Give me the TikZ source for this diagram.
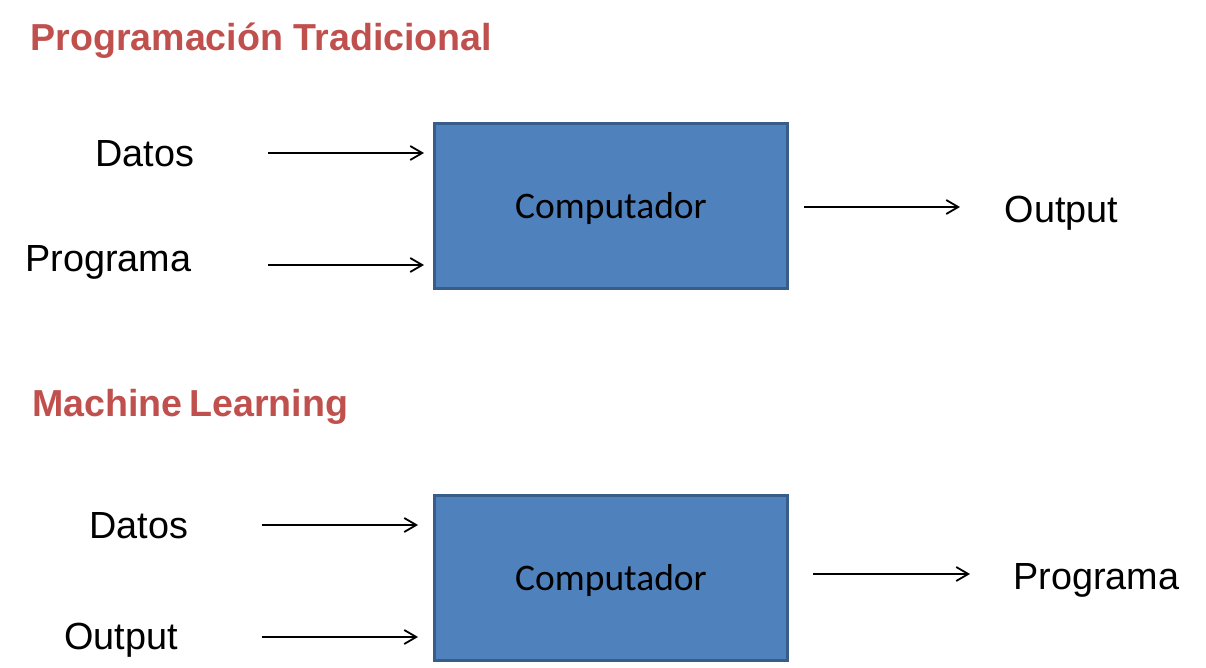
\documentclass[tikz,border=0pt]{standalone}
\usepackage{fontspec}
\setmainfont{Liberation Sans}
\newfontfamily\calibri{Carlito}
\usetikzlibrary{arrows.meta}
\definecolor{titlered}{HTML}{C0504D}
\definecolor{boxblue}{HTML}{4F81BD}
\definecolor{boxedge}{HTML}{385D8A}
\begin{document}
\begin{tikzpicture}[x=0.5pt, y=-0.5pt,
  heading/.style={anchor=base west, inner sep=0pt, text=titlered, font=\fontsize{18.8}{22}\selectfont\bfseries},
  iolabel/.style={anchor=base west, inner sep=0pt, font=\fontsize{18.9}{22}\selectfont},
  computer/.style={draw=boxedge, fill=boxblue, line width=1.5pt, minimum width=176.5pt, minimum height=82.5pt, inner sep=0pt, text height=16pt, text depth=3.7pt, font=\calibri\fontsize{18.75}{22}\selectfont},
  flow/.style={-{Straight Barb[length=6pt,width=7pt]}, line width=0.9pt}]
\useasboundingbox (0,0) rectangle (1206,668);
% traditional programming
\node[heading] (trad) at (30,51) {Programación Tradicional};
\node[iolabel] (datos1) at (95,166.7) {Datos};
\node[iolabel] (prog1) at (25,271.7) {Programa};
\node[computer] (comp1) at (611,206) {Computador};
\node[iolabel] (out1) at (1004.5,223) {Output};
\coordinate (d1) at (268,153);
\coordinate (p1) at (268,265);
\coordinate (o1) at (960,207);
\draw[flow, shorten >=4.5pt] (d1) -- (comp1.west |- d1);
\draw[flow, shorten >=4.5pt] (p1) -- (comp1.west |- p1);
\draw[flow, shorten <=7.5pt] (comp1.east |- o1) -- (o1);
% machine learning
\node[heading] (ml) at (32,417) {Machine\hspace{-2pt} Learning};
\node[iolabel] (datos2) at (89,538.3) {Datos};
\node[iolabel] (out2) at (64,649) {Output};
\node[computer] (comp2) at (611,578) {Computador};
\node[iolabel] (prog2) at (1013,589) {Programa};
\coordinate (d2) at (262,525);
\coordinate (o2) at (262,637);
\coordinate (p2) at (970,574);
\draw[flow, shorten >=7.5pt] (d2) -- (comp2.west |- d2);
\draw[flow, shorten >=7.5pt] (o2) -- (comp2.west |- o2);
\draw[flow, shorten <=12pt] (comp2.east |- p2) -- (p2);
\end{tikzpicture}
\end{document}
